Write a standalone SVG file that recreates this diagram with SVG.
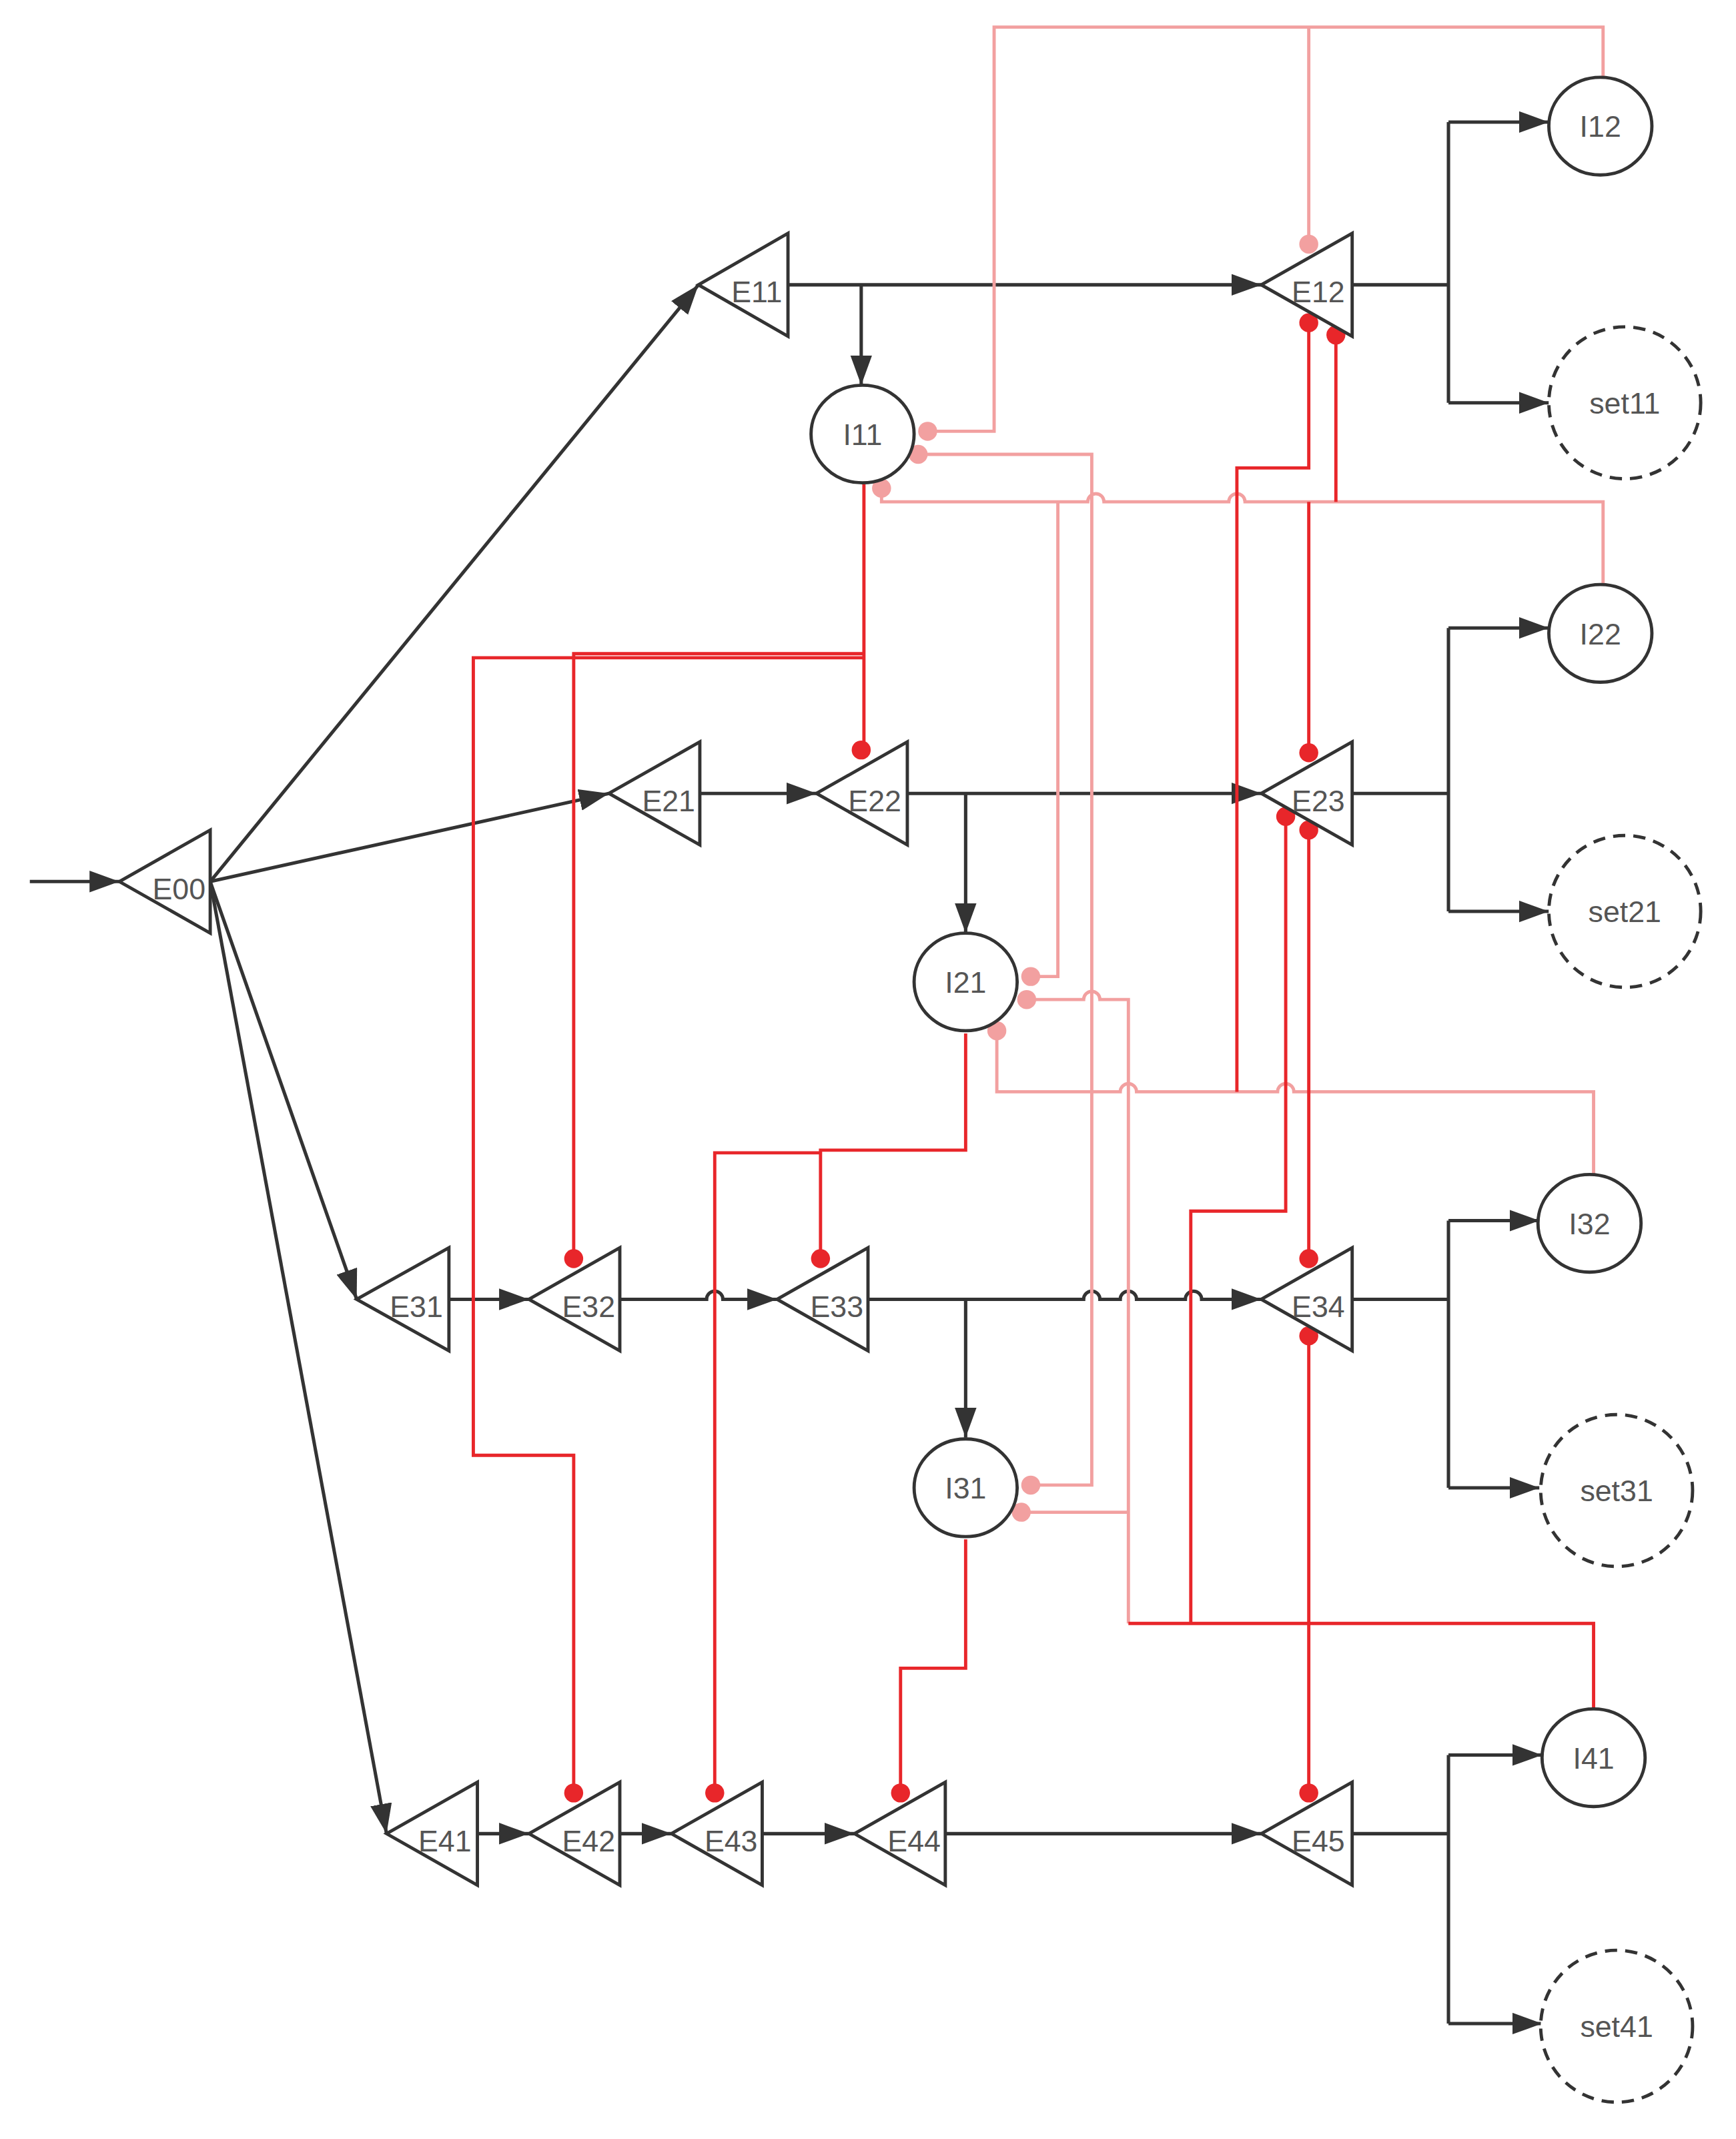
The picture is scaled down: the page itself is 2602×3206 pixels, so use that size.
<svg xmlns="http://www.w3.org/2000/svg" width="2602" height="3206" viewBox="0 0 2602 3206">
<style>
.n{fill:#fff;stroke:#333;stroke-width:2.4}
.d{fill:#fff;stroke:#333;stroke-width:2.4;stroke-dasharray:9 6}
.t{font-family:"Liberation Sans Narrow","Liberation Sans",sans-serif;font-size:22px;fill:#555;text-anchor:middle}
.b{fill:none;stroke:#333;stroke-width:2.5}
.r{fill:none;stroke:#e8262a;stroke-width:2.4}
.p{fill:none;stroke:#f2a0a0;stroke-width:2.4}
.rd{fill:#e8262a}.pd{fill:#f2a0a0}
</style>
<defs>
<marker id="a" markerUnits="userSpaceOnUse" markerWidth="24" markerHeight="18" refX="22" refY="8" orient="auto"><path d="M0,0 L22,8 L0,16 Z" fill="#333"/></marker>
</defs>
<rect width="2602" height="3206" fill="#fff"/>
<g transform="scale(2.0328)">
<g id="connectors">
<path class="b" marker-end="url(#a)" d="M22,650 L88,650"/>
<path class="b" marker-end="url(#a)" d="M155,650 L515,210"/>
<path class="b" marker-end="url(#a)" d="M155,650 L449,585"/>
<path class="b" marker-end="url(#a)" d="M155,650 L263,958"/>
<path class="b" marker-end="url(#a)" d="M155,650 L285,1352"/>
<path class="b" marker-end="url(#a)" d="M581,210 L930,210"/>
<path class="b" marker-end="url(#a)" d="M635,210 L635,284"/>
<path class="b" d="M997,210 L1068,210 M1068,90 L1068,297"/>
<path class="b" marker-end="url(#a)" d="M1068,90 L1142,90"/>
<path class="b" marker-end="url(#a)" d="M1068,297 L1142,297"/>
<path class="b" marker-end="url(#a)" d="M516,585 L602,585"/>
<path class="b" marker-end="url(#a)" d="M669,585 L930,585"/>
<path class="b" marker-end="url(#a)" d="M712,585 L712,688"/>
<path class="b" d="M997,585 L1068,585 M1068,463 L1068,672"/>
<path class="b" marker-end="url(#a)" d="M1068,463 L1142,463"/>
<path class="b" marker-end="url(#a)" d="M1068,672 L1142,672"/>
<path class="b" marker-end="url(#a)" d="M331,958 L390,958"/>
<path class="b" marker-end="url(#a)" d="M457,958 L521,958 A6,6 0 0 1 533,958 L573,958"/>
<path class="b" marker-end="url(#a)" d="M640,958 L799,958 A6,6 0 0 1 811,958 L826,958 A6,6 0 0 1 838,958 L874,958 A6,6 0 0 1 886,958 L930,958"/>
<path class="b" marker-end="url(#a)" d="M712,958 L712,1060"/>
<path class="b" d="M997,958 L1068,958 M1068,900 L1068,1097"/>
<path class="b" marker-end="url(#a)" d="M1068,900 L1135,900"/>
<path class="b" marker-end="url(#a)" d="M1068,1097 L1135,1097"/>
<path class="b" marker-end="url(#a)" d="M352,1352 L390,1352"/>
<path class="b" marker-end="url(#a)" d="M457,1352 L495,1352"/>
<path class="b" marker-end="url(#a)" d="M562,1352 L630,1352"/>
<path class="b" marker-end="url(#a)" d="M697,1352 L930,1352"/>
<path class="b" d="M997,1352 L1068,1352 M1068,1294 L1068,1492"/>
<path class="b" marker-end="url(#a)" d="M1068,1294 L1137,1294"/>
<path class="b" marker-end="url(#a)" d="M1068,1492 L1137,1492"/>
<!-- pink -->
<path class="p" d="M684,318 L733,318 L733,20 L1182,20 L1182,57 M965,20 L965,180"/>
<path class="p" d="M677,335 L805,335 L805,1095 L760,1095"/>
<path class="p" d="M650,360 L650,370 L802,370 A6,6 0 0 1 814,370 L906,370 A6,6 0 0 1 918,370 L1182,370 L1182,432"/>
<path class="p" d="M760,720 L780,720 L780,370"/>
<path class="p" d="M757,737 L799,737 A6,6 0 0 1 811,737 L832,737 L832,1197"/>
<path class="p" d="M753,1115 L832,1115"/>
<path class="p" d="M735,760 L735,805 L826,805 A6,6 0 0 1 838,805 L942,805 A6,6 0 0 1 954,805 L1175,805 L1175,866"/>
<!-- red -->
<path class="r" d="M637,357 L637,553"/>
<path class="r" d="M637,482 L423,482 L423,928"/>
<path class="r" d="M637,485 L349,485 L349,1073 L423,1073 L423,1322"/>
<path class="r" d="M712,762 L712,848 L605,848 L605,928"/>
<path class="r" d="M605,850 L527,850 L527,1322"/>
<path class="r" d="M712,1135 L712,1230 L664,1230 L664,1322"/>
<path class="r" d="M1175,1260 L1175,1197 L832,1197 M878,1197 L878,893 L948,893 L948,602"/>
<path class="r" d="M965,612 L965,928 M965,985 L965,1322"/>
<path class="r" d="M965,238 L965,345 L912,345 L912,805"/>
<path class="r" d="M985,247 L985,370 M965,370 L965,555"/>
<g class="pd"><circle cx="684" cy="318" r="7"/><circle cx="677" cy="335" r="7"/><circle cx="650" cy="360" r="7"/><circle cx="965" cy="180" r="7"/><circle cx="760" cy="720" r="7"/><circle cx="757" cy="737" r="7"/><circle cx="735" cy="760" r="7"/><circle cx="760" cy="1095" r="7"/><circle cx="753" cy="1115" r="7"/></g>
<g class="rd"><circle cx="635" cy="553" r="7"/><circle cx="423" cy="928" r="7"/><circle cx="423" cy="1322" r="7"/><circle cx="605" cy="928" r="7"/><circle cx="527" cy="1322" r="7"/><circle cx="664" cy="1322" r="7"/><circle cx="965" cy="238" r="7"/><circle cx="985" cy="247" r="7"/><circle cx="965" cy="555" r="7"/><circle cx="948" cy="602" r="7"/><circle cx="965" cy="612" r="7"/><circle cx="965" cy="928" r="7"/><circle cx="965" cy="985" r="7"/><circle cx="965" cy="1322" r="7"/></g>
</g>
<g id="E00"><path class="n" d="M88,650 L155,612 L155,688 Z"/><text class="t" x="132" y="663">E00</text></g>
<g id="E11"><path class="n" d="M515,210 L581,172 L581,248 Z"/><text class="t" x="558" y="223">E11</text></g>
<g id="E12"><path class="n" d="M930,210 L997,172 L997,248 Z"/><text class="t" x="972" y="223">E12</text></g>
<g id="E21"><path class="n" d="M449,585 L516,547 L516,623 Z"/><text class="t" x="493" y="598">E21</text></g>
<g id="E22"><path class="n" d="M602,585 L669,547 L669,623 Z"/><text class="t" x="645" y="598">E22</text></g>
<g id="E23"><path class="n" d="M930,585 L997,547 L997,623 Z"/><text class="t" x="972" y="598">E23</text></g>
<g id="E31"><path class="n" d="M263,958 L331,920 L331,996 Z"/><text class="t" x="307" y="971">E31</text></g>
<g id="E32"><path class="n" d="M390,958 L457,920 L457,996 Z"/><text class="t" x="434" y="971">E32</text></g>
<g id="E33"><path class="n" d="M573,958 L640,920 L640,996 Z"/><text class="t" x="617" y="971">E33</text></g>
<g id="E34"><path class="n" d="M930,958 L997,920 L997,996 Z"/><text class="t" x="972" y="971">E34</text></g>
<g id="E41"><path class="n" d="M285,1352 L352,1314 L352,1390 Z"/><text class="t" x="328" y="1365">E41</text></g>
<g id="E42"><path class="n" d="M390,1352 L457,1314 L457,1390 Z"/><text class="t" x="434" y="1365">E42</text></g>
<g id="E43"><path class="n" d="M495,1352 L562,1314 L562,1390 Z"/><text class="t" x="539" y="1365">E43</text></g>
<g id="E44"><path class="n" d="M630,1352 L697,1314 L697,1390 Z"/><text class="t" x="674" y="1365">E44</text></g>
<g id="E45"><path class="n" d="M930,1352 L997,1314 L997,1390 Z"/><text class="t" x="972" y="1365">E45</text></g>
<g id="I11"><ellipse class="n" cx="636" cy="320" rx="38" ry="36"/><text class="t" x="636" y="328">I11</text></g>
<g id="I12"><ellipse class="n" cx="1180" cy="93" rx="38" ry="36"/><text class="t" x="1180" y="101">I12</text></g>
<g id="set11"><circle class="d" cx="1198" cy="297" r="56"/><text class="t" x="1198" y="305">set11</text></g>
<g id="I22"><ellipse class="n" cx="1180" cy="467" rx="38" ry="36"/><text class="t" x="1180" y="475">I22</text></g>
<g id="set21"><circle class="d" cx="1198" cy="672" r="56"/><text class="t" x="1198" y="680">set21</text></g>
<g id="I21"><ellipse class="n" cx="712" cy="724" rx="38" ry="36"/><text class="t" x="712" y="732">I21</text></g>
<g id="I32"><ellipse class="n" cx="1172" cy="902" rx="38" ry="36"/><text class="t" x="1172" y="910">I32</text></g>
<g id="set31"><circle class="d" cx="1192" cy="1099" r="56"/><text class="t" x="1192" y="1107">set31</text></g>
<g id="I31"><ellipse class="n" cx="712" cy="1097" rx="38" ry="36"/><text class="t" x="712" y="1105">I31</text></g>
<g id="I41"><ellipse class="n" cx="1175" cy="1296" rx="38" ry="36"/><text class="t" x="1175" y="1304">I41</text></g>
<g id="set41"><circle class="d" cx="1192" cy="1494" r="56"/><text class="t" x="1192" y="1502">set41</text></g>
</g>
</svg>
